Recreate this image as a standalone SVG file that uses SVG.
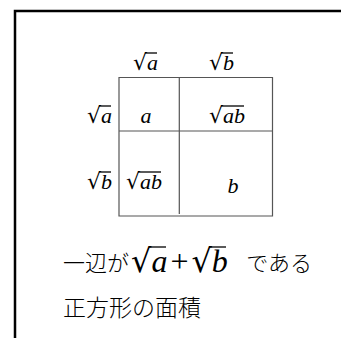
<svg xmlns="http://www.w3.org/2000/svg" width="341" height="338" viewBox="0 0 341 338">
<style>
.frame{fill:none;stroke:#000;stroke-width:2.5}
.grid{stroke:#555;stroke-width:1.2;fill:none}
.m{font-family:"Liberation Serif","DejaVu Serif",serif;font-size:22px;fill:#000}
.r{font-family:"DejaVu Serif",serif}
.i{font-style:italic}
.ov{stroke:#000;stroke-width:1.3}
.jp{font-family:"Noto Sans CJK JP",sans-serif;font-size:22px;font-weight:300;fill:#000}
</style>
<rect class="frame" x="15" y="11" width="340" height="340"/>
<g id="grid">
<path class="grid" d="M119,77.5H272.5V216H119Z M119,131H272.5 M179.3,77.5V214"/>
</g>
<g id="labels">
<g id="top-sqrt-a"><text class="m" x="133" y="70"><tspan class="r">√</tspan><tspan class="i">a</tspan></text><line class="ov" x1="145" y1="53" x2="157" y2="53"/></g>
<g id="top-sqrt-b"><text class="m" x="209" y="70"><tspan class="r">√</tspan><tspan class="i">b</tspan></text><line class="ov" x1="221" y1="53" x2="233" y2="53"/></g>
<g id="left-sqrt-a"><text class="m" x="87" y="123"><tspan class="r">√</tspan><tspan class="i">a</tspan></text><line class="ov" x1="99" y1="106" x2="111" y2="106"/></g>
<g id="left-sqrt-b"><text class="m" x="87" y="189"><tspan class="r">√</tspan><tspan class="i">b</tspan></text><line class="ov" x1="99" y1="172" x2="111" y2="172"/></g>
<g id="cell-a"><text class="m i" x="146" y="123" text-anchor="middle">a</text></g>
<g id="cell-ab1"><text class="m" x="209" y="123"><tspan class="r">√</tspan><tspan class="i">ab</tspan></text><line class="ov" x1="221" y1="106" x2="244" y2="106"/></g>
<g id="cell-ab2"><text class="m" x="126" y="189"><tspan class="r">√</tspan><tspan class="i">ab</tspan></text><line class="ov" x1="138" y1="172" x2="161" y2="172"/></g>
<g id="cell-b"><text class="m i" x="233" y="193" text-anchor="middle">b</text></g>
</g>
<g id="caption">
<text class="jp" x="63" y="271">一辺が</text>
<text class="m" x="131" y="272" style="font-size:32px"><tspan class="r">√</tspan><tspan class="i">a</tspan><tspan dx="3">+</tspan><tspan class="r" dx="3">√</tspan><tspan class="i">b</tspan></text>
<line class="ov" x1="149" y1="247" x2="166" y2="247"/>
<line class="ov" x1="209" y1="247" x2="226" y2="247"/>
<text class="jp" x="312" y="271" text-anchor="end">である</text>
<text class="jp" x="63" y="316" style="font-size:23px">正方形の面積</text>
</g>
</svg>
